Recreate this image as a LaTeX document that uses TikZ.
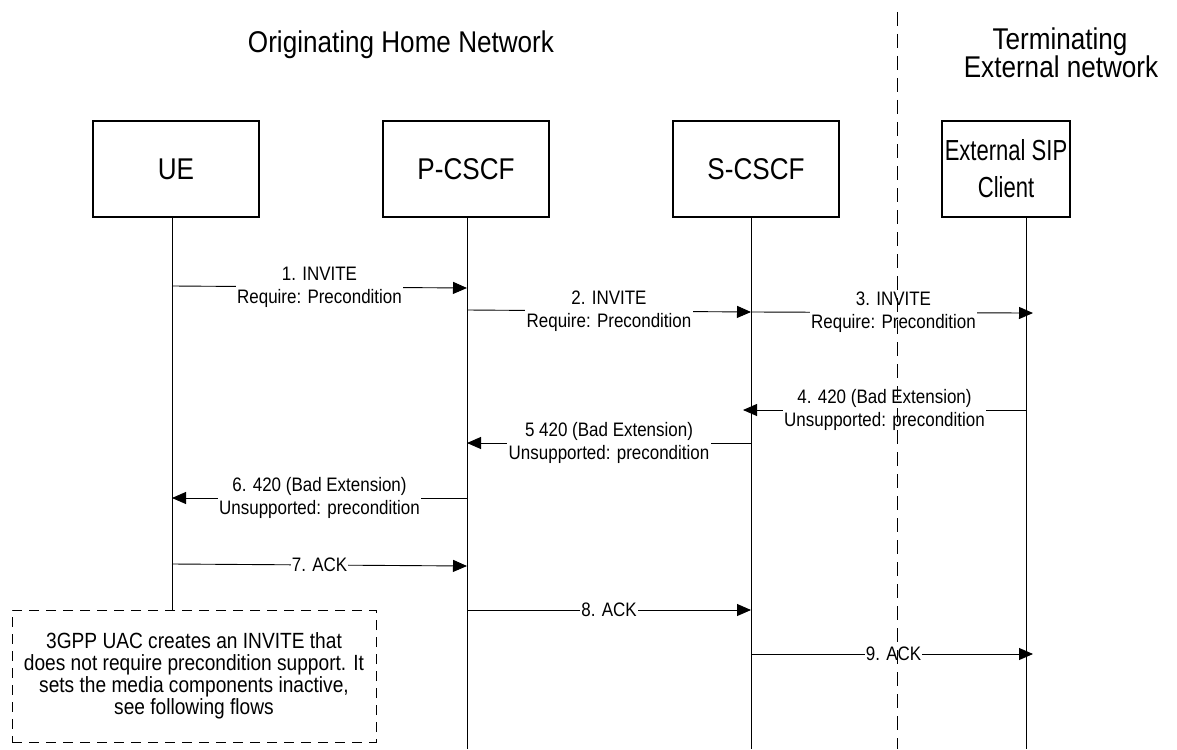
\documentclass[tikz,border=0pt]{standalone}
\usepackage{fontspec}
\setmainfont{Liberation Sans}[FakeStretch=0.87]
\newfontfamily\narrowfont{Liberation Sans}[FakeStretch=0.76]
\usetikzlibrary{arrows.meta}
\tikzset{
  actor/.style={draw, line width=1.1pt, minimum height=96, inner sep=0pt, align=center,
    font=\fontsize{30}{36}\selectfont},
  title/.style={anchor=base, align=center, inner sep=0pt, font=\fontsize{30}{28}\selectfont},
  life/.style={line width=1pt},
  msg/.style={line width=0.9pt, -{Triangle[length=14pt,width=12pt]}},
  lbl/.style={fill=white, inner sep=1.5pt, align=center, font=\fontsize{19.5}{23}\selectfont},
  ack/.style={fill=white, inner sep=1pt, font=\fontsize{19.5}{23}\selectfont},
  notebox/.style={draw, dashed, dash pattern=on 10pt off 7pt, line width=1pt, align=center,
    minimum width=364, minimum height=132, inner sep=0pt, font=\fontsize{22}{21.8}\selectfont},
  sep/.style={line width=1pt, dash pattern=on 14pt off 8pt}
}
\begin{document}
\begin{tikzpicture}[x=1pt,y=-1pt]
\useasboundingbox (0,0) rectangle (1177,749);
% titles
\node[title] (t1) at (401,53) {Originating Home Network};
\node[title] (t2) at (1060,50) {Terminating};
\node[title] (t3) at (1061,78) {External network};
% actors
\node[actor, minimum width=166] (ue) at (176,169) {UE};
\node[actor, minimum width=166] (pc) at (466,169) {P-CSCF};
\node[actor, minimum width=166] (sc) at (756,169) {S-CSCF};
\node[actor, minimum width=128, font=\narrowfont\fontsize{29}{37}\selectfont] (ex) at (1006,169) {External SIP\\Client};
% lifeline ends
\coordinate (ueT) at (172,217);
\coordinate (pcT) at (467,217);
\coordinate (scT) at (751,217);
\coordinate (exT) at (1026,217);
\coordinate (pcB) at (467,749);
\coordinate (scB) at (751,749);
\coordinate (exB) at (1026,749);
% note
\node[notebox] (note) at (194,676) {3GPP UAC creates an INVITE that\\does not require precondition support. It\\sets the media components inactive,\\see following flows};
\draw[life] (ueT) -- (ueT |- note.north);
\draw[life] (pcT) -- (pcB);
\draw[life] (scT) -- (scB);
\draw[life] (exT) -- (exB);
% message points
\coordinate (a1) at (172,286); \coordinate (b1) at (467,288);
\coordinate (a2) at (467,310); \coordinate (b2) at (751,312);
\coordinate (a3) at (751,312); \coordinate (b3) at (1026,313);
\coordinate (a4) at (1026,410); \coordinate (b4) at (751,410);
\coordinate (a5) at (751,443); \coordinate (b5) at (467,443);
\coordinate (a6) at (467,498); \coordinate (b6) at (172,498);
\coordinate (a7) at (172,564); \coordinate (b7) at (467,566);
\coordinate (a8) at (467,610); \coordinate (b8) at (751,610);
\coordinate (a9) at (751,654); \coordinate (b9) at (1026,654);
\draw[msg] (a1) -- node[lbl] (l1) {1. INVITE\\Require: Precondition} (b1);
\draw[msg] (a2) -- node[lbl] (l2) {2. INVITE\\Require: Precondition} (b2);
\draw[msg, shorten >=-7pt] (a3) -- node[lbl, xshift=5] (l3) {3. INVITE\\Require: Precondition} (b3);
\draw[msg, shorten >=-8pt] (a4) -- node[lbl, xshift=-4] (l4) {4. 420 (Bad Extension)\\Unsupported: precondition} (b4);
\draw[msg] (a5) -- node[lbl] (l5) {5 420 (Bad Extension)\\Unsupported: precondition} (b5);
\draw[msg] (a6) -- node[lbl] (l6) {6. 420 (Bad Extension)\\Unsupported: precondition} (b6);
\draw[msg] (a7) -- node[ack] (l7) {7. ACK} (b7);
\draw[msg] (a8) -- node[ack] (l8) {8. ACK} (b8);
\draw[msg, shorten >=-7pt] (a9) -- node[ack, xshift=5] (l9) {9. ACK} (b9);
% separator
\coordinate (sepT) at (897,12);
\coordinate (sepB) at (897,749);
\draw[sep] (sepT) -- (sepB);
\end{tikzpicture}
\end{document}
